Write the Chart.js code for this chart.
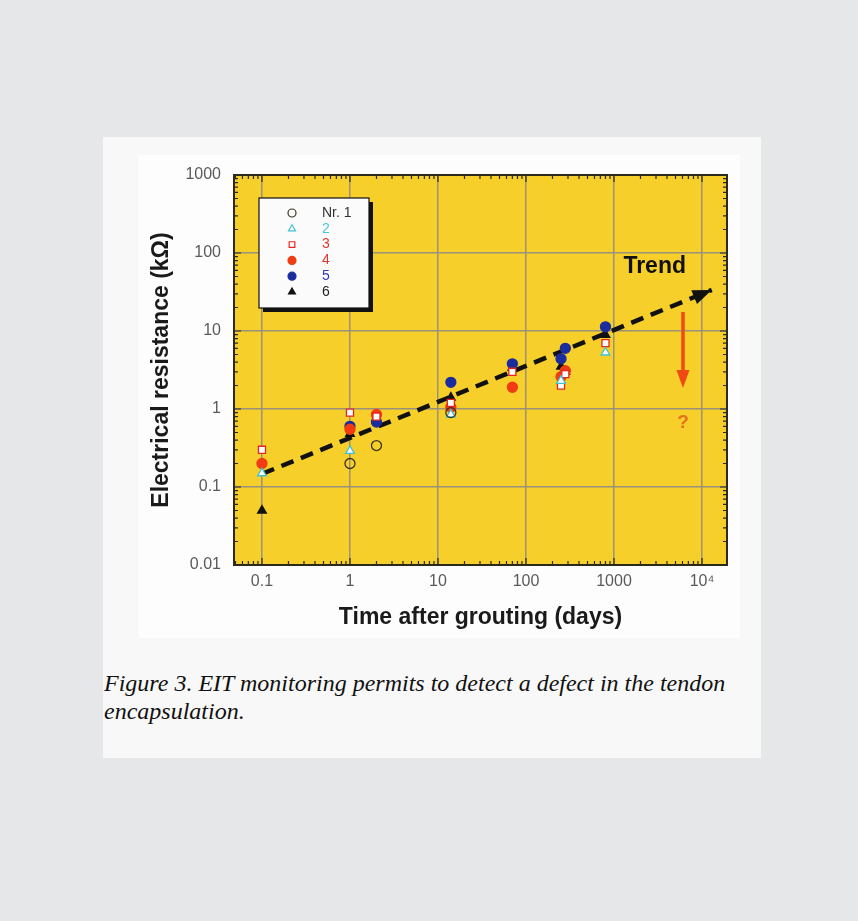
<!DOCTYPE html>
<html>
<head>
<meta charset="utf-8">
<script src="https://cdn.jsdelivr.net/npm/chart.js@4.4.1/dist/chart.umd.min.js"></script>
<style>
  html, body { margin: 0; padding: 0; }
  body { width: 858px; height: 921px; background: #e6e7e9; position: relative; overflow: hidden; }
  #panel { position: absolute; left: 103px; top: 137px; width: 658px; height: 621px; background: #f8f8f8; }
  #plotbg { position: absolute; left: 35px; top: 18px; width: 602px; height: 483px; background: #fdfdfd; }
  #chartBox { position: absolute; left: 0; top: 0; width: 658px; height: 510px; }
  #caption { position: absolute; left: 1px; top: 532px; width: 650px; white-space: nowrap;
    font: italic 24px/28px "Liberation Serif", "Times New Roman", serif; color: #111; }
</style>
</head>
<body>
<div id="panel">
  <div id="plotbg"></div>
  <div id="chartBox"><canvas id="eitChart" width="658" height="510"></canvas></div>
  <div id="caption">Figure 3. EIT monitoring permits to detect a defect in the tendon<br>encapsulation.</div>
</div>
<script>
// axis ticks
const xTickValues = [0.1, 1, 10, 100, 1000, 10000];
const xTickLabels = ['0.1', '1', '10', '100', '1000', '10\u2074'];
const yTickValues = [0.01, 0.1, 1, 10, 100, 1000];
const yTickLabels = ['0.01', '0.1', '1', '10', '100', '1000'];

// measured series: [days, kOhm]
const seriesNames = ['Nr. 1', '2', '3', '4', '5', '6'];
const nr1 = [[1, 0.2], [2, 0.34], [14, 0.9]];
const nr2 = [[0.1, 0.15], [1, 0.29], [14, 0.85], [250, 2.3], [800, 5.3]];
const nr3 = [[0.1, 0.3], [1, 0.9], [2, 0.8], [14, 1.2], [70, 3.0], [250, 2.0], [280, 2.8], [800, 7.0]];
const nr4 = [[0.1, 0.2], [1, 0.55], [2, 0.85], [14, 1.05], [70, 1.9], [250, 2.6], [280, 3.1]];
const nr5 = [[1, 0.6], [2, 0.68], [14, 2.2], [70, 3.8], [250, 4.4], [280, 6.0], [800, 11.3]];
const nr6 = [[0.1, 0.05], [1, 0.48], [2, 0.72], [14, 1.4], [70, 3.4], [250, 3.5], [280, 3.0], [800, 8.9]];
const trendLine = [[0.1, 0.147], [12900, 33.6]];

const seriesStyle = [
  { pointStyle: 'circle',   backgroundColor: 'rgba(0,0,0,0)', borderColor: '#3a3520', text: '#333' },
  { pointStyle: 'triangle', backgroundColor: '#ffffff', borderColor: '#3ec3d6', text: '#4cc6d8' },
  { pointStyle: 'rect',     backgroundColor: '#ffffff', borderColor: '#e2261e', text: '#e2362a' },
  { pointStyle: 'circle',   backgroundColor: '#f03c12', borderColor: '#f03c12', text: '#e2362a' },
  { pointStyle: 'circle',   backgroundColor: '#1b2d9e', borderColor: '#1b2d9e', text: '#2b3bb8' },
  { pointStyle: 'triangle', backgroundColor: '#111111', borderColor: '#111111', text: '#222' }
];

const toPts = arr => arr.map(([x, y]) => ({ x, y }));
const allSeries = [nr1, nr2, nr3, nr4, nr5, nr6];

function logTicks(scale) {
  const ticks = [];
  const lo = Math.floor(Math.log10(scale.min)), hi = Math.ceil(Math.log10(scale.max));
  for (let e = lo; e <= hi; e++) {
    for (let m = 1; m <= 9; m++) {
      const v = m * Math.pow(10, e);
      if (v >= scale.min * 0.999 && v <= scale.max * 1.001) ticks.push({ value: v, major: m === 1 });
    }
  }
  scale.ticks = ticks;
}
function labelFor(v, vals, labels) {
  const i = vals.findIndex(t => Math.abs(Math.log10(t) - Math.log10(v)) < 1e-6);
  return i < 0 ? '' : labels[i];
}

const gridColor = c => (c.tick && c.tick.major) ? '#9a927a' : 'rgba(0,0,0,0)';

const plotFrame = {
  id: 'plotFrame',
  beforeDraw(chart) {
    const { ctx, chartArea: a } = chart;
    ctx.save();
    ctx.fillStyle = '#f6cf2b';
    ctx.fillRect(a.left, a.top, a.width, a.height);
    ctx.restore();
  },
  beforeDatasetsDraw(chart) {
    const { ctx, chartArea: a, scales } = chart;
    ctx.save();
    ctx.strokeStyle = '#2b2a1c';
    ctx.lineWidth = 1.2;
    ctx.beginPath();
    scales.x.ticks.forEach(t => {
      const px = scales.x.getPixelForValue(t.value);
      const len = t.major ? 7 : 4;
      ctx.moveTo(px, a.bottom); ctx.lineTo(px, a.bottom - len);
      ctx.moveTo(px, a.top); ctx.lineTo(px, a.top + len);
    });
    scales.y.ticks.forEach(t => {
      const py = scales.y.getPixelForValue(t.value);
      const len = t.major ? 7 : 4;
      ctx.moveTo(a.left, py); ctx.lineTo(a.left + len, py);
      ctx.moveTo(a.right, py); ctx.lineTo(a.right - len, py);
    });
    ctx.stroke();
    ctx.lineWidth = 2;
    ctx.strokeRect(a.left, a.top, a.width, a.height);
    ctx.restore();
  }
};

const notes = {
  id: 'notes',
  afterDatasetsDraw(chart) {
    const { ctx, scales: { x, y } } = chart;
    ctx.save();
    // trend arrow head
    const p0 = { x: x.getPixelForValue(trendLine[0][0]), y: y.getPixelForValue(trendLine[0][1]) };
    const p1 = { x: x.getPixelForValue(trendLine[1][0]), y: y.getPixelForValue(trendLine[1][1]) };
    let dx = p1.x - p0.x, dy = p1.y - p0.y;
    const d = Math.hypot(dx, dy); dx /= d; dy /= d;
    ctx.fillStyle = '#111';
    ctx.beginPath();
    ctx.moveTo(p1.x, p1.y);
    ctx.lineTo(p1.x - dx * 19 - dy * 7.5, p1.y - dy * 19 + dx * 7.5);
    ctx.lineTo(p1.x - dx * 19 + dy * 7.5, p1.y - dy * 19 - dx * 7.5);
    ctx.closePath(); ctx.fill();
    ctx.font = 'bold 23px "Liberation Sans", Arial, sans-serif';
    ctx.textAlign = 'center'; ctx.textBaseline = 'middle';
    ctx.fillText('Trend', x.getPixelForValue(2900), y.getPixelForValue(66));
    // red arrow: defect question
    const ax = x.getPixelForValue(6080);
    const aTop = y.getPixelForValue(17.5), aTip = y.getPixelForValue(1.86);
    ctx.strokeStyle = '#f04a14'; ctx.fillStyle = '#f04a14';
    ctx.lineWidth = 3.5;
    ctx.beginPath(); ctx.moveTo(ax, aTop); ctx.lineTo(ax, aTip - 14); ctx.stroke();
    ctx.beginPath(); ctx.moveTo(ax, aTip); ctx.lineTo(ax - 6.5, aTip - 18); ctx.lineTo(ax + 6.5, aTip - 18);
    ctx.closePath(); ctx.fill();
    ctx.fillStyle = '#e8701c';
    ctx.font = 'bold 19px "Liberation Sans", Arial, sans-serif';
    ctx.fillText('?', ax, y.getPixelForValue(0.66));
    ctx.restore();
  }
};

const boxLegend = {
  id: 'boxLegend',
  afterDraw(chart) {
    const ctx = chart.ctx;
    const bx = 156, by = 61, bw = 110, bh = 110;
    ctx.save();
    ctx.fillStyle = '#111';
    ctx.fillRect(bx + 4, by + 4, bw, bh);
    ctx.fillStyle = '#fbfbfb';
    ctx.fillRect(bx, by, bw, bh);
    ctx.strokeStyle = '#111'; ctx.lineWidth = 1.2;
    ctx.strokeRect(bx, by, bw, bh);
    ctx.font = '14px "Liberation Sans", Arial, sans-serif';
    ctx.textBaseline = 'middle'; ctx.textAlign = 'left';
    seriesNames.forEach((name, i) => {
      const st = seriesStyle[i];
      const ry = by + 15 + i * 15.8;
      ctx.fillStyle = st.backgroundColor; ctx.strokeStyle = st.borderColor; ctx.lineWidth = 1.2;
      Chart.helpers.drawPoint(ctx, { pointStyle: st.pointStyle, radius: 4, borderWidth: 1.2, rotation: 0 }, bx + 33, ry);
      ctx.fillStyle = st.text;
      ctx.fillText(name, bx + 63, ry);
    });
    ctx.restore();
  }
};

const datasets = allSeries.map((s, i) => ({
  label: seriesNames[i],
  data: toPts(s),
  pointStyle: seriesStyle[i].pointStyle,
  backgroundColor: seriesStyle[i].backgroundColor,
  borderColor: seriesStyle[i].borderColor,
  borderWidth: 1.3,
  pointRadius: 5,
  order: 0
}));
datasets.push({
  type: 'line',
  label: 'Trend',
  data: toPts(trendLine),
  borderColor: '#111',
  borderWidth: 4.5,
  borderDash: [13, 8],
  pointRadius: 0,
  fill: false,
  order: 1
});

Chart.defaults.font.family = '"Liberation Sans", Arial, sans-serif';

new Chart(document.getElementById('eitChart'), {
  type: 'scatter',
  data: { datasets },
  options: {
    responsive: false,
    animation: false,
    devicePixelRatio: 1,
    layout: { padding: { top: 38, right: 34, left: 41, bottom: 12 } },
    plugins: { legend: { display: false }, tooltip: { enabled: false } },
    scales: {
      x: {
        type: 'logarithmic',
        min: 0.0481, max: 19230,
        afterBuildTicks: logTicks,
        afterFit: s => { s.height = 70; },
        grid: { color: gridColor, lineWidth: 1.5, drawTicks: false },
        border: { display: false },
        ticks: { autoSkip: false, maxRotation: 0, minRotation: 0, padding: 7, color: '#5a5a5a',
          font: { size: 16 }, callback: v => labelFor(v, xTickValues, xTickLabels) },
        title: { display: true, text: 'Time after grouting (days)', color: '#1a1a1a',
          font: { size: 23, weight: 'bold' }, padding: { top: 4, bottom: 4 } }
      },
      y: {
        type: 'logarithmic',
        min: 0.01, max: 1000,
        afterBuildTicks: logTicks,
        afterFit: s => { s.width = 90; },
        grid: { color: gridColor, lineWidth: 1.5, drawTicks: false },
        border: { display: false },
        ticks: { autoSkip: false, padding: 13, color: '#5a5a5a',
          font: { size: 16 }, callback: v => labelFor(v, yTickValues, yTickLabels) },
        title: { display: true, text: 'Electrical resistance (k\u03a9)', color: '#1a1a1a',
          font: { size: 23, weight: 'bold' }, padding: { top: 4, bottom: 4 } }
      }
    }
  },
  plugins: [plotFrame, notes, boxLegend]
});
</script>
</body>
</html>
